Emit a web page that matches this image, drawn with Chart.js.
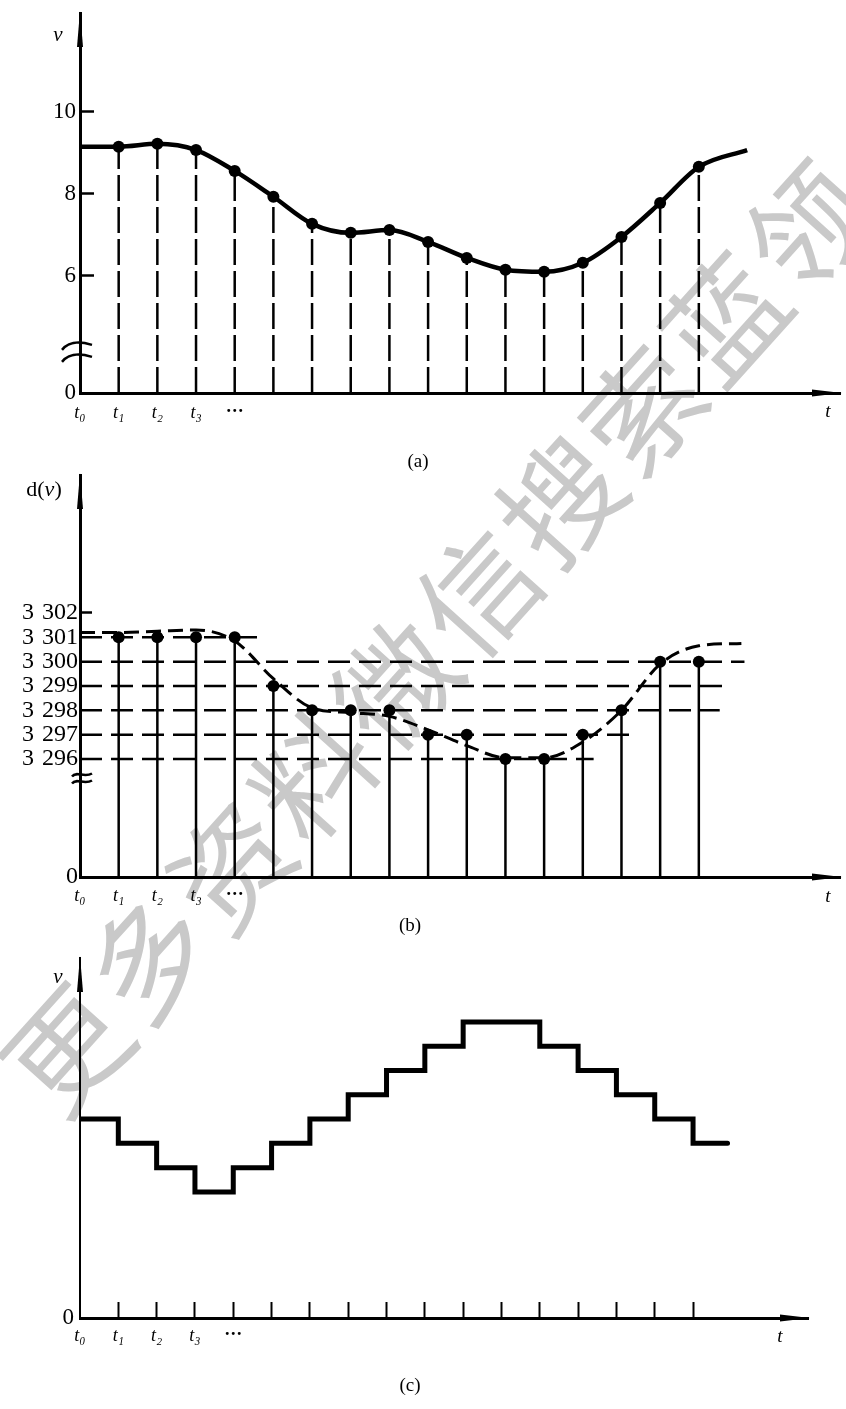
<!DOCTYPE html>
<html lang="zh">
<head>
<meta charset="utf-8">
<title>v(t) — d(v) — v</title>
<script src="https://cdn.jsdelivr.net/npm/chart.js@4.4.1/dist/chart.umd.min.js"></script>
<style>
  html, body { margin: 0; padding: 0; background: #fff; }
  #page { position: relative; width: 846px; height: 1409px; overflow: hidden; }
  canvas { position: absolute; left: 0; z-index: 1; }
  #chartA { top: 0; }
  #chartB { top: 470px; }
  #chartC { top: 940px; }
  .cap { position: absolute; z-index: 2; width: 60px; margin-left: -30px; text-align: center;
         font: 19px 'Liberation Serif', serif; line-height: 22px; color: #000; }
  #mark { position: absolute; left: 434px; top: 632px; z-index: 0; line-height: 1;
          transform: translate(-50%, -50%) rotate(-48deg);
          font: 118px 'Noto Sans CJK SC', sans-serif; color: #c9c9c9;
          letter-spacing: 5px; white-space: nowrap; }
</style>
</head>
<body>
<div id="page">
  <div id="mark">更多资料微信搜索蓝领</div>
  <canvas id="chartA" width="846" height="450"></canvas>
  <canvas id="chartB" width="846" height="460"></canvas>
  <canvas id="chartC" width="846" height="469"></canvas>
  <div class="cap" style="left:418px; top:450px">(a)</div>
  <div class="cap" style="left:410px; top:914px">(b)</div>
  <div class="cap" style="left:410px; top:1374px">(c)</div>
</div>
<script>
// Моменты отсчётов t0..t16
const sampleT = [0, 1, 2, 3, 4, 5, 6, 7, 8, 9, 10, 11, 12, 13, 14, 15, 16];
// Подписи на оси t
const tLabels = ['t₀', 't₁', 't₂', 't₃', '···'];

// (a) непрерывный сигнал v в моменты t0..t16
const vSamples = [9.15, 9.15, 9.22, 9.07, 8.56, 7.93, 7.27, 7.05, 7.12, 6.83, 6.44, 6.15, 6.10, 6.32, 6.95, 7.78, 8.66];
// хвост кривой после t16
const vTailT = 17.25;
const vTailValue = 9.07;
// деления оси v
const aYTicks = [6, 8, 10];
const aYFloor = 3.146;   // здесь стоит «0» после разрыва оси
const aBreak = 4.1;

// (b) коды d(v) в моменты t1..t16
const dCodes = [3301, 3301, 3301, 3301, 3299, 3298, 3298, 3298, 3297, 3297, 3296, 3296, 3297, 3298, 3300, 3300];
// штриховая кривая в единицах кода, t0..t16
const dCurve = [3301.2, 3301.2, 3301.25, 3301.3, 3300.85, 3299.3, 3298.1, 3297.9, 3297.75, 3297.2, 3296.55, 3296.05, 3296.05, 3296.7, 3298.0, 3299.9, 3300.65];
const dCurveTailT = 17.1;
const dCurveTail = 3300.75;
// уровни квантования и где кончается штриховая линия уровня
const dLevels = [3301, 3300, 3299, 3298, 3297, 3296];
const dLevelEnds = [4.63, 17.18, 16.6, 16.54, 14.24, 13.28];
// деления оси d(v)
const bYTicks = [3296, 3297, 3298, 3299, 3300, 3301, 3302];
const bYFloor = 3291.15;
const bBreak = 3295.2;

// (c) ступенчатый сигнал на интервалах [t_i, t_i+1]
const vSteps = [8, 7, 6, 5, 6, 7, 8, 9, 10, 11, 12, 12, 11, 10, 9, 8, 7];
const vStepsEndT = 16.9;
const cYFloor = -0.19;

const BLACK = '#000';
const NONE = 'rgba(0,0,0,0)';
const serif = "'Liberation Serif', 'DejaVu Serif', serif";

// Вертикальные линии-ножки: снизу до значения, с разрывом между ними
function stemData(ts, tops, floor) {
    const pts = [];
    ts.forEach((t, i) => {
        pts.push({ x: t, y: floor }, { x: t, y: tops[i] }, { x: t, y: null });
    });
    return pts;
}

function withTail(ts, vals, tailT, tailV) {
    return ts.map((t, i) => ({ x: t, y: vals[i] })).concat({ x: tailT, y: tailV });
}

// Стрелки осей, разрыв оси и названия осей
const axisDecor = {
    id: 'decor',
    afterDraw(chart, args, o) {
        const ctx = chart.ctx;
        const a = chart.chartArea;
        ctx.save();
        ctx.fillStyle = BLACK;
        ctx.strokeStyle = BLACK;

        ctx.beginPath();
        ctx.moveTo(a.left, a.top - 2);
        ctx.lineTo(a.left - 3, a.top + 34);
        ctx.lineTo(a.left + 3, a.top + 34);
        ctx.closePath();
        ctx.fill();

        ctx.beginPath();
        ctx.moveTo(a.right + 2, a.bottom);
        ctx.lineTo(a.right - 28, a.bottom - 3.5);
        ctx.lineTo(a.right - 28, a.bottom + 3.5);
        ctx.closePath();
        ctx.fill();

        if (o.breakAt !== undefined) {
            const y0 = chart.scales.y.getPixelForValue(o.breakAt);
            const x0 = a.left;
            ctx.lineWidth = 2.5;
            if (o.breakStyle === 'big') {
                [-6, 6].forEach(dy => {
                    ctx.beginPath();
                    ctx.moveTo(x0 - 18, y0 + dy + 2);
                    ctx.bezierCurveTo(x0 - 10, y0 + dy - 8, x0 + 2, y0 + dy - 6, x0 + 12, y0 + dy - 3);
                    ctx.stroke();
                });
            } else {
                [-4, 3].forEach(dy => {
                    ctx.beginPath();
                    ctx.moveTo(x0 - 8, y0 + dy + 2);
                    ctx.bezierCurveTo(x0 - 3, y0 + dy - 4, x0 + 4, y0 + dy + 4, x0 + 12, y0 + dy - 1);
                    ctx.stroke();
                });
            }
        }

        ctx.textBaseline = 'middle';
        (o.names || []).forEach(n => {
            const bx = n.anchor === 'y' ? a.left : a.right;
            const by = n.anchor === 'y' ? a.top : a.bottom;
            let w = 0;
            n.parts.forEach(p => {
                ctx.font = (p[1] ? 'italic ' : '') + n.size + 'px ' + serif;
                w += ctx.measureText(p[0]).width;
            });
            let x = bx + n.dx - w / 2;
            n.parts.forEach(p => {
                ctx.font = (p[1] ? 'italic ' : '') + n.size + 'px ' + serif;
                ctx.textAlign = 'left';
                ctx.fillText(p[0], x, by + n.dy);
                x += ctx.measureText(p[0]).width;
            });
        });
        ctx.restore();
    }
};

function tFont(c) {
    const i = c.index;
    if (i === 4) return { family: serif, size: 18, weight: 'bold' };
    return { family: serif, size: 18, style: 'italic' };
}

// Общая ось t
function xAxis(max, height, pad, tickCount, tickMarks) {
    return {
        type: 'linear',
        bounds: 'data',
        min: 0,
        max: max,
        afterBuildTicks: s => { s.ticks = sampleT.slice(0, tickCount).map(v => ({ value: v })); },
        afterFit: s => { s.height = height; s.paddingLeft = 0; s.paddingRight = 0; },
        border: { display: true, color: BLACK, width: 3 },
        grid: {
            drawOnChartArea: false,
            drawTicks: tickMarks,
            tickLength: -16,
            tickWidth: 2,
            color: c => (c.index > 0 ? BLACK : NONE)
        },
        ticks: {
            autoSkip: false,
            maxRotation: 0,
            padding: pad,
            color: BLACK,
            font: tFont,
            callback: (v, i) => (tLabels[i] !== undefined ? tLabels[i] : '')
        }
    };
}

// Ось значений с «0» внизу после разрыва
function yAxis(min, max, floor, values, labels, markLen, pad, markTest, size, borderW) {
    return {
        type: 'linear',
        bounds: 'data',
        min: min,
        max: max,
        afterBuildTicks: s => { s.ticks = [floor].concat(values).map(v => ({ value: v })); },
        afterFit: s => { s.width = 80; s.paddingTop = 0; s.paddingBottom = 0; },
        border: { display: true, color: BLACK, width: borderW },
        grid: {
            drawOnChartArea: false,
            drawTicks: true,
            tickLength: -markLen,
            tickWidth: 2.5,
            color: c => (c.tick && markTest(c.tick.value) ? BLACK : NONE)
        },
        ticks: {
            autoSkip: false,
            padding: pad,
            color: BLACK,
            font: { family: serif, size: size },
            callback: (v, i) => (i === 0 ? '0' : labels[i - 1])
        }
    };
}

const baseOptions = {
    responsive: false,
    animation: false,
    events: []
};

// (a) непрерывный сигнал с отсчётами
new Chart(document.getElementById('chartA'), {
    type: 'line',
    data: {
        datasets: [{
            data: withTail(sampleT, vSamples, vTailT, vTailValue),
            borderColor: BLACK,
            borderWidth: 4.5,
            cubicInterpolationMode: 'monotone',
            pointRadius: c => (c.dataIndex === 0 || c.dataIndex > 16 ? 0 : 6),
            pointBackgroundColor: BLACK,
            pointBorderWidth: 0
        }, {
            data: stemData(sampleT.slice(1), vSamples.slice(1), aYFloor),
            borderColor: BLACK,
            borderWidth: 2.5,
            borderDash: [26, 6],
            pointRadius: 0,
            tension: 0
        }]
    },
    options: Object.assign({}, baseOptions, {
        layout: { padding: { top: 13, right: 6, left: 0, bottom: 0 } },
        plugins: {
            legend: { display: false },
            tooltip: { enabled: false },
            decor: {
                breakAt: aBreak,
                breakStyle: 'big',
                names: [
                    { parts: [['v', true]], anchor: 'y', dx: -22, dy: 22, size: 21 },
                    { parts: [['t', true]], anchor: 'x', dx: -12, dy: 19, size: 19 }
                ]
            }
        },
        scales: {
            x: xAxis(19.65, 57, 9, 5, false),
            y: yAxis(aYFloor, 12.41, aYFloor, aYTicks, aYTicks.map(String), 14, 18,
                v => v > aYFloor + 0.01, 23, 3)
        }
    }),
    plugins: [axisDecor]
});

// (b) квантованные значения d(v)
new Chart(document.getElementById('chartB'), {
    type: 'line',
    data: {
        datasets: [{
            data: stemData(sampleT.slice(1), dCodes, bYFloor),
            borderColor: BLACK,
            borderWidth: 2.5,
            pointRadius: c => (c.dataIndex % 3 === 1 ? 6 : 0),
            pointBackgroundColor: BLACK,
            pointBorderWidth: 0,
            tension: 0
        }, {
            data: withTail(sampleT, dCurve, dCurveTailT, dCurveTail),
            borderColor: BLACK,
            borderWidth: 3,
            borderDash: [15, 7],
            cubicInterpolationMode: 'monotone',
            pointRadius: 0
        }].concat(dLevels.map((lvl, i) => ({
            data: [{ x: 0, y: lvl }, { x: dLevelEnds[i], y: lvl }],
            borderColor: BLACK,
            borderWidth: 2.5,
            borderDash: [22, 9],
            pointRadius: 0
        })))
    },
    options: Object.assign({}, baseOptions, {
        layout: { padding: { top: 5, right: 6, left: 0, bottom: 0 } },
        plugins: {
            legend: { display: false },
            tooltip: { enabled: false },
            decor: {
                breakAt: bBreak,
                breakStyle: 'small',
                names: [
                    { parts: [['d(', false], ['v', true], [')', false]], anchor: 'y', dx: -36, dy: 15, size: 22 },
                    { parts: [['t', true]], anchor: 'x', dx: -12, dy: 20, size: 19 }
                ]
            }
        },
        scales: {
            x: xAxis(19.65, 53, 8, 5, false),
            y: yAxis(bYFloor, 3307.67, bYFloor, bYTicks,
                bYTicks.map(v => String(v).slice(0, 1) + ' \u200A' + String(v).slice(1)), 12, 14,
                v => v > 3301.5, 24, 3)
        }
    }),
    plugins: [axisDecor]
});

// (c) ступенчатый сигнал
new Chart(document.getElementById('chartC'), {
    type: 'line',
    data: {
        datasets: [{
            data: withTail(sampleT, vSteps, vStepsEndT, vSteps[vSteps.length - 1]),
            borderColor: BLACK,
            borderWidth: 5,
            stepped: true,
            borderCapStyle: 'round',
            pointRadius: 0
        }]
    },
    options: Object.assign({}, baseOptions, {
        layout: { padding: { top: 18, right: 38, left: 0, bottom: 0 } },
        plugins: {
            legend: { display: false },
            tooltip: { enabled: false },
            decor: {
                names: [
                    { parts: [['v', true]], anchor: 'y', dx: -22, dy: 19, size: 21 },
                    { parts: [['t', true]], anchor: 'x', dx: -28, dy: 19, size: 19 }
                ]
            }
        },
        scales: {
            x: xAxis(19.0, 91, 23, 17, true),
            y: yAxis(cYFloor, 14.63, cYFloor, [], [], 0, 6, () => false, 23, 2)
        }
    }),
    plugins: [axisDecor]
});
</script>
</body>
</html>
